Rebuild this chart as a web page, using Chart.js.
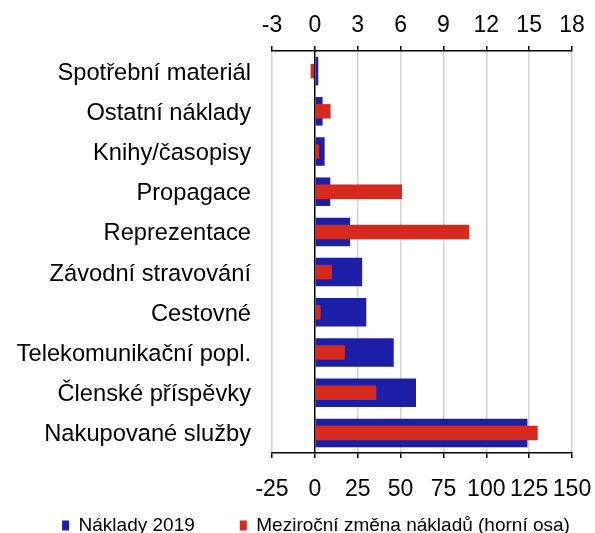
<!DOCTYPE html>
<html>
<head>
<meta charset="utf-8">
<script src="https://cdn.jsdelivr.net/npm/chart.js@4"></script>
<style>
html, body { margin: 0; padding: 0; background: #fff; }
</style>
</head>
<body>
<canvas id="graf" width="595" height="533"></canvas>
<script>
// kategorie nákladů (odshora dolů)
const kategorie = ['Spotřební materiál', 'Ostatní náklady', 'Knihy/časopisy', 'Propagace', 'Reprezentace',
    'Závodní stravování', 'Cestovné', 'Telekomunikační popl.', 'Členské příspěvky', 'Nakupované služby']
// náklady 2019 (dolní osa)
const naklady2019 = [2, 4.5, 5.7, 9, 20.6, 27.6, 30, 46, 59, 124]
// meziroční změna (horní osa)
const zmena = [-0.3, 1.1, 0.3, 6.1, 10.8, 1.2, 0.4, 2.1, 4.3, 15.6]
const tickyDole = [-25, 0, 25, 50, 75, 100, 125, 150]
const tickyNahore = [-3, 0, 3, 6, 9, 12, 15, 18]

Chart.defaults.font.family = "'Liberation Sans', Arial, sans-serif"
Chart.defaults.color = '#000'

const modra = '#1d1fa6'
const cervena = '#d72a1f'

// legenda ma velky rozestup mezi polozkami, ale nema zabirat misto pod osou
const posunLegendy = {
    id: 'posunLegendy',
    afterLayout(chart) {
        chart.legend.top = 471
    }
}

const graf = document.getElementById('graf')
new Chart(graf, {
    type: 'bar',
    data: {
        labels: kategorie,
        datasets: [{
            label: 'Náklady 2019',
            data: naklady2019,
            backgroundColor: modra,
            xAxisID: 'x',
            grouped: false,
            order: 1,
            barPercentage: 0.71,
            categoryPercentage: 1
        }, {
            label: 'Meziroční změna nákladů (horní osa)',
            data: zmena,
            backgroundColor: cervena,
            xAxisID: 'x2',
            grouped: false,
            order: 0,
            barPercentage: 0.36,
            categoryPercentage: 1
        }]
    },
    plugins: [posunLegendy],
    options: {
        indexAxis: 'y',
        responsive: false,
        animation: false,
        layout: {
            padding: {left: 10, right: -27, top: 0, bottom: 0}
        },
        plugins: {
            legend: {
                position: 'bottom',
                maxHeight: 30,
                labels: {
                    boxWidth: 7,
                    boxHeight: 10,
                    padding: 45,
                    font: {size: 19},
                    sort: (a, b) => a.datasetIndex - b.datasetIndex
                }
            },
            tooltip: {enabled: false}
        },
        scales: {
            y: {
                grid: {display: false, drawTicks: false},
                border: {display: false},
                ticks: {padding: 21, labelOffset: 2, font: {size: 23.7}},
                afterFit: (s) => { s.width = 262 }
            },
            x: {
                position: 'bottom',
                min: tickyDole[0],
                max: tickyDole[tickyDole.length - 1],
                ticks: {stepSize: tickyDole[1] - tickyDole[0], font: {size: 23}, padding: 18, maxRotation: 0, autoSkip: false},
                grid: {
                    color: (ctx) => (ctx.tick && ctx.tick.value === 0) ? '#000' : '#d4d4d4',
                    lineWidth: 1.5,
                    tickColor: '#000',
                    tickLength: 5
                },
                border: {color: '#000', width: 1.5},
                afterFit: (s) => { s.height = 50; s.paddingRight = 23 }
            },
            x2: {
                position: 'top',
                min: tickyNahore[0],
                max: tickyNahore[tickyNahore.length - 1],
                ticks: {stepSize: tickyNahore[1] - tickyNahore[0], font: {size: 23}, padding: 7, maxRotation: 0, autoSkip: false},
                grid: {drawOnChartArea: false, tickColor: '#000', tickLength: 5, lineWidth: 1.5},
                border: {color: '#000', width: 1.5},
                afterFit: (s) => { s.height = 51; s.paddingRight = 23 }
            }
        }
    }
});
</script>
</body>
</html>
